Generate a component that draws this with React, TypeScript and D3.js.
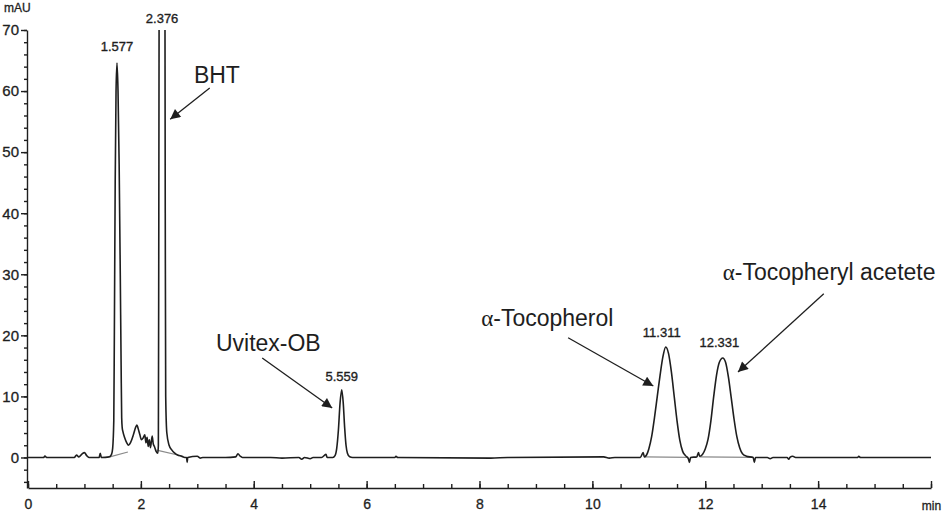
import React from "react";
import * as d3 from "d3";

// chromatogram trace: [time (min), absorbance (mAU)]
const trace: [number, number][] = [
  [0, 0], [0.28, 0], [0.3, 0.25], [0.33, 0], [0.82, 0], [0.86, 0.4], [0.9, 0.1],
  [0.96, 0.6], [1.0, 0.8], [1.04, 0.3], [1.08, 0], [1.26, 0], [1.28, 0.7], [1.3, 0],
  [1.44, 0.1], [1.48, 0.5], [1.5, 1.5], [1.52, 6], [1.53, 20], [1.545, 45], [1.56, 60],
  [1.577, 64.6], [1.595, 60], [1.615, 48], [1.635, 30], [1.65, 15], [1.66, 6.5],
  [1.67, 4.8], [1.68, 4.3], [1.71, 3.3], [1.75, 2.4], [1.78, 2.0], [1.82, 2.5],
  [1.87, 3.8], [1.91, 5.0], [1.93, 5.3], [1.95, 4.8], [1.98, 3.8], [2.01, 2.9],
  [2.04, 3.2], [2.07, 3.7], [2.09, 2.4], [2.11, 3.3], [2.13, 1.8], [2.15, 2.9],
  [2.17, 1.6], [2.2, 3.5], [2.22, 2.2], [2.24, 1.8], [2.27, 1.0], [2.3, 0.7],
  [2.31, 2], [2.318, 40], [2.33, 110], [2.376, 140], [2.42, 110], [2.432, 40],
  [2.44, 10], [2.46, 4], [2.5, 2], [2.55, 1.2], [2.6, 0.7], [2.65, 0.4], [2.72, 0.2],
  [2.78, 0], [2.81, 0], [2.82, -0.8], [2.83, 0], [3.0, 0.2], [3.05, -0.1], [3.1, 0],
  [3.5, 0], [3.68, 0.1], [3.72, 0.6], [3.76, 0.2], [3.8, 0], [4.3, 0], [4.5, -0.1],
  [4.8, 0], [4.85, -0.3], [4.9, 0], [5.0, -0.2], [5.05, 0], [5.2, 0], [5.28, 0.5],
  [5.3, 0], [5.4, 0], [5.44, 0.3], [5.47, 1.5], [5.5, 4.5], [5.53, 9], [5.559, 11.1],
  [5.585, 9], [5.61, 5], [5.635, 2], [5.66, 0.7], [5.7, 0.1], [5.75, 0], [6.5, 0],
  [6.52, 0.2], [6.55, 0], [8.2, -0.1], [8.5, 0], [10.2, 0.1], [10.3, -0.1], [10.4, 0],
  [10.85, 0], [10.9, 0.8], [10.92, 0.1], [10.96, 0.4], [11.0, 1.4], [11.05, 3.4],
  [11.1, 6.5], [11.15, 10], [11.2, 13.5], [11.25, 16.5], [11.3, 18.1], [11.35, 17],
  [11.4, 14], [11.45, 10], [11.5, 6], [11.55, 2.8], [11.6, 1.0], [11.65, 0.3],
  [11.7, -0.2], [11.72, -0.8], [11.74, 0], [11.85, 0.1], [11.88, 0.8], [11.9, 0.2],
  [11.95, 0.5], [12.0, 1.4], [12.05, 3], [12.1, 6], [12.15, 10], [12.2, 13.5],
  [12.25, 15.6], [12.31, 16.3], [12.36, 15.6], [12.41, 13.2], [12.46, 9.8],
  [12.51, 6.3], [12.56, 3.4], [12.61, 1.6], [12.66, 0.6], [12.73, 0.2], [12.85, 0],
  [12.87, -0.8], [12.89, 0], [13.1, 0], [13.15, -0.2], [13.2, 0], [13.45, 0],
  [13.48, -0.3], [13.5, 0], [13.55, 0.2], [13.6, 0], [14.7, 0], [14.72, 0.2],
  [14.75, 0], [16, 0],
];

// integration baselines drawn in grey under the peaks
const baselines: [number, number][][] = [
  [[1.45, 0.1], [1.77, 0.9]],
  [[2.28, 1.2], [2.75, 0.2]],
  [[10.92, 0.1], [11.7, 0]],
  [[11.9, 0.1], [12.85, 0]],
];

const xMajor = [0, 2, 4, 6, 8, 10, 12, 14, 16];
const xMinor = d3.range(0, 16.01, 0.5);
const yMajor = [0, 10, 20, 30, 40, 50, 60, 70];
const yMinor = d3.range(-4, 70.01, 2);

// retention time labels
const peakLabels = ["1.577", "2.376", "5.559", "11.311", "12.331"];
const peakLabelT = [1.577, 2.376, 5.56, 11.23, 12.25];
const peakLabelV = [66.5, 71.2, 12.5, 19.7, 18.1];

// compound names with arrows (data units)
const compounds = ["BHT", "Uvitex-OB", "-Tocopherol", "-Tocopheryl acetete"];
const compoundAlpha = [false, false, true, true];
const compoundAt: [number, number][] = [[2.94, 61.3], [3.33, 17.4], [8.03, 21.5], [12.31, 29.1]];
const arrowFrom: [number, number][] = [[3.22, 60.5], [4.15, 16.3], [9.57, 19.6], [14.1, 26.8]];
const arrowTo: [number, number][] = [[2.52, 55.4], [5.39, 8.1], [11.08, 11.7], [12.58, 14.0]];

export default function App() {
  const svgRef = React.useRef<SVGSVGElement>(null);

  React.useEffect(() => {
    const width = 945;
    const height = 513;
    const ink = "#1e1e1e";
    const font = "'Liberation Sans', Arial, Helvetica, sans-serif";
    const svg = d3.select(svgRef.current!);
    svg.selectAll("*").remove();
    svg.attr("width", width).attr("height", height);

    const x = d3.scaleLinear().domain([0, 16]).range([28, 931]);
    const y = d3.scaleLinear().domain([-5, 70]).range([488, 30]);

    const defs = svg.append("defs");
    defs.append("clipPath").attr("id", "plot-clip")
      .append("rect").attr("x", 0).attr("y", y(70)).attr("width", width).attr("height", height);
    defs.append("marker")
      .attr("id", "arrow")
      .attr("viewBox", "0 0 10 10")
      .attr("refX", 10).attr("refY", 5)
      .attr("markerWidth", 12).attr("markerHeight", 10)
      .attr("markerUnits", "userSpaceOnUse")
      .attr("orient", "auto")
      .append("path").attr("d", "M0,0 L10,5 L0,10 Z").attr("fill", ink);

    // x axis: minor ticks every 0.5 min, labels every 2 min, ticks point up
    svg.append("g")
      .attr("transform", `translate(0,${y(-5)})`)
      .call(d3.axisBottom(x).tickValues(xMinor).tickSizeInner(-4).tickSizeOuter(0).tickFormat(() => ""))
      .call((g) => g.select(".domain").remove());
    const xAxis = svg.append("g")
      .attr("transform", `translate(0,${y(-5)})`)
      .call(
        d3.axisBottom(x).tickValues(xMajor).tickSizeInner(-7).tickSizeOuter(0).tickPadding(11)
          .tickFormat((d) => (d === 16 ? "min" : String(d)))
      );
    xAxis.selectAll("text").attr("font-size", 14)
      .filter((d) => d === 16).attr("font-size", 12).attr("dy", "0.9em");

    // y axis
    svg.append("g")
      .attr("transform", `translate(${x(0) - 1},0)`)
      .call(d3.axisLeft(y).tickValues(yMinor).tickSizeInner(3).tickSizeOuter(0).tickFormat(() => ""))
      .call((g) => g.select(".domain").remove());
    const yAxis = svg.append("g")
      .attr("transform", `translate(${x(0) - 1},0)`)
      .call(d3.axisLeft(y).tickValues(yMajor).tickSizeInner(6).tickSizeOuter(0).tickPadding(2));
    yAxis.selectAll("text").attr("font-size", 15);

    svg.selectAll(".domain, .tick line").attr("stroke", ink).attr("stroke-width", 1.4);
    svg.selectAll(".tick text")
      .attr("fill", ink).attr("font-family", font)
      .attr("stroke", ink).attr("stroke-width", 0.3);

    svg.append("text")
      .attr("x", 4).attr("y", 12)
      .attr("font-family", font).attr("font-size", 12).attr("fill", ink)
      .attr("stroke", ink).attr("stroke-width", 0.3)
      .text("mAU");

    // grey integration baselines
    svg.append("g").selectAll("line")
      .data(baselines).enter().append("line")
      .attr("x1", (d) => x(d[0][0])).attr("y1", (d) => y(d[0][1]))
      .attr("x2", (d) => x(d[1][0])).attr("y2", (d) => y(d[1][1]))
      .attr("stroke", "#8a8a8a").attr("stroke-width", 1.2);

    // signal
    const line = d3.line<[number, number]>()
      .x((d) => x(d[0]))
      .y((d) => y(d[1]))
      .curve(d3.curveMonotoneX);
    svg.append("path")
      .datum(trace)
      .attr("clip-path", "url(#plot-clip)")
      .attr("d", line)
      .attr("fill", "none")
      .attr("stroke", ink)
      .attr("stroke-width", 1.6)
      .attr("stroke-linejoin", "round");

    // retention times
    svg.append("g").selectAll("text")
      .data(peakLabels).enter().append("text")
      .attr("x", (_, i) => x(peakLabelT[i]))
      .attr("y", (_, i) => y(peakLabelV[i]))
      .attr("text-anchor", "middle")
      .attr("font-family", font).attr("font-size", 13).attr("fill", ink)
      .attr("stroke", ink).attr("stroke-width", 0.35)
      .text((d) => d);

    // compound names + arrows
    svg.append("g").selectAll("line")
      .data(compounds).enter().append("line")
      .attr("x1", (_, i) => x(arrowFrom[i][0])).attr("y1", (_, i) => y(arrowFrom[i][1]))
      .attr("x2", (_, i) => x(arrowTo[i][0])).attr("y2", (_, i) => y(arrowTo[i][1]))
      .attr("stroke", ink).attr("stroke-width", 1.3)
      .attr("marker-end", "url(#arrow)");

    const names = svg.append("g").selectAll("text")
      .data(compounds).enter().append("text")
      .attr("x", (_, i) => x(compoundAt[i][0]))
      .attr("y", (_, i) => y(compoundAt[i][1]))
      .attr("font-family", font).attr("font-size", 23).attr("fill", ink);
    names.filter((_, i) => compoundAlpha[i])
      .append("tspan")
      .attr("font-family", "'Liberation Serif', 'DejaVu Serif', serif")
      .text("\u03b1");
    names.append("tspan").text((d) => d);
  }, []);

  return (
    <svg
      ref={svgRef}
      style={{ position: "absolute", left: 0, top: 0, background: "#fff" }}
    />
  );
}
